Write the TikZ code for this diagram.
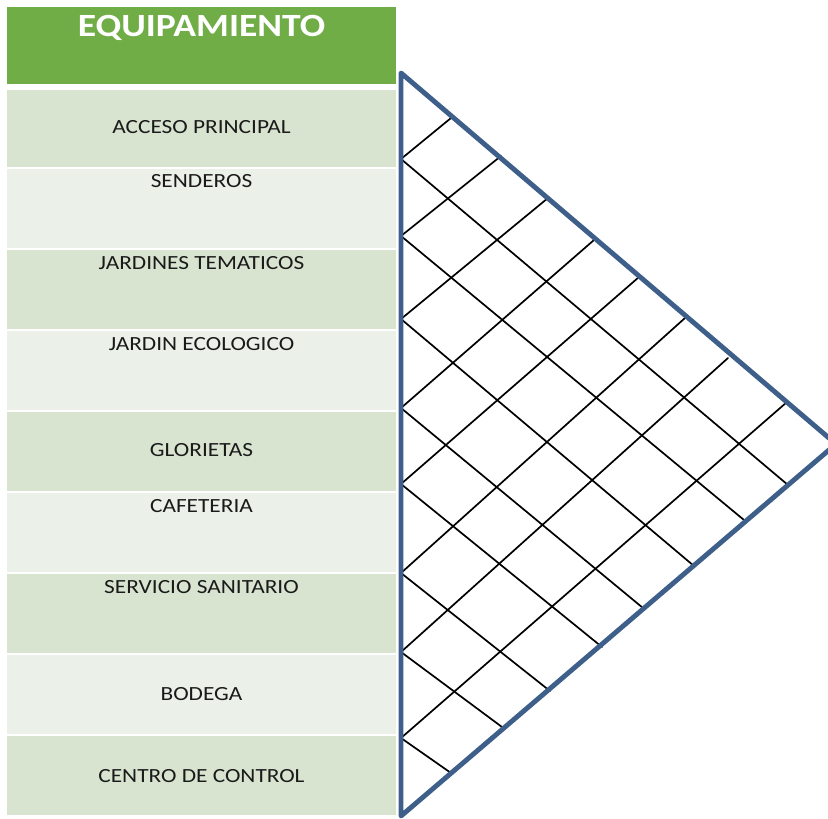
\documentclass[tikz,border=0pt]{standalone}
\usepackage{fontspec}
\setmainfont{Carlito}[FakeStretch=1.16]
\definecolor{hdr}{HTML}{70AD47}
\definecolor{dk}{HTML}{D8E4D0}
\definecolor{lt}{HTML}{EBF0E8}
\definecolor{tri}{HTML}{3E5F8A}
\definecolor{txt}{HTML}{1A1A1A}
\begin{document}
\begin{tikzpicture}[x=1pt,y=-1pt,
  lbl/.style={anchor=base, inner sep=0pt, text=txt, font=\fontsize{20.1}{23}\selectfont},
  hdrtext/.style={anchor=base, inner sep=0pt, text=white, font=\bfseries\fontsize{32.4}{37}\selectfont},
  gridline/.style={line width=1.7pt, black, line cap=round},
  triline/.style={line width=4.9pt, tri, line join=round}]
\useasboundingbox (0,0) rectangle (828,819);
% header
\fill[hdr] (7,7) rectangle (396,84);
\node[hdrtext] (head) at (201.5,36) {EQUIPAMIENTO};
% rows
\fill[dk] (7,90)  rectangle (396,167);
\fill[lt] (7,169) rectangle (396,248);
\fill[dk] (7,250) rectangle (396,329);
\fill[lt] (7,331) rectangle (396,410);
\fill[dk] (7,412) rectangle (396,491);
\fill[lt] (7,493) rectangle (396,572);
\fill[dk] (7,574) rectangle (396,653);
\fill[lt] (7,655) rectangle (396,734);
\fill[dk] (7,736) rectangle (396,815);
% labels
\node[lbl] (l1) at (201.5,133.3) {ACCESO PRINCIPAL};
\node[lbl] (l2) at (201.5,187.7) {SENDEROS};
\node[lbl] (l3) at (201.5,269.3) {JARDINES TEMATICOS};
\node[lbl] (l4) at (201.5,350) {JARDIN ECOLOGICO};
\node[lbl] (l5) at (201.5,456.7) {GLORIETAS};
\node[lbl] (l6) at (201.5,512.7) {CAFETERIA};
\node[lbl] (l7) at (201.5,593.3) {SERVICIO SANITARIO};
\node[lbl] (l8) at (201.5,700.7) {BODEGA};
\node[lbl] (l9) at (201.5,782.3) {CENTRO DE CONTROL};
% grid lines
\foreach \ya/\xb/\yb in {159/451/118, 236/501/156, 319/548/198, 408/594/240,
                          484/639/277, 573/685/318, 652/728/358, 738/787/402}
  \draw[gridline] (401,\ya) -- (\xb,\yb);
\foreach \ya/\xb/\yb in {159/788/485, 236/744/520, 319/694/566, 408/643/608,
                          484/602/647, 573/550/691, 652/502/727, 738/451/773}
  \draw[gridline] (401,\ya) -- (\xb,\yb);
% triangle
\draw[triline] (401,73) -- (836,444) -- (401,816) -- cycle;
\end{tikzpicture}
\end{document}
